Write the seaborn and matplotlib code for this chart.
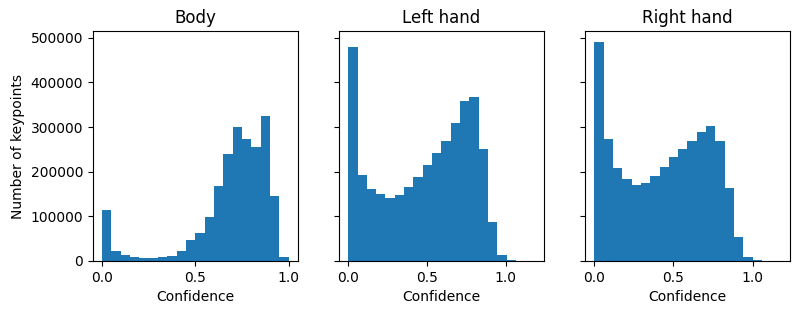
import numpy as np
import pandas as pd
import seaborn as sns
import matplotlib
matplotlib.use("Agg")
import matplotlib.pyplot as plt

# histogram counts (20 bins per panel)
body_counts = [113800, 22300, 13400, 8900, 5900, 5900, 8900, 11200, 22300, 46800,
               62500, 98100, 167000, 238700, 301000, 274000, 256500, 325700, 145000, 8900]
left_counts = [479600, 191800, 160600, 149400, 140500, 147200, 165100, 187400, 214100, 240900,
               269900, 310000, 359100, 368000, 252000, 87000, 13400, 2200, 300, 100]
right_counts = [490700, 274300, 207400, 182900, 169500, 174000, 189600, 209700, 232000, 252000,
                269900, 290000, 303300, 269900, 162800, 53500, 8900, 2200, 300, 100]

titles = ["Body", "Left hand", "Right hand"]
max_conf = [1.0, 1.184, 1.178]
all_counts = [body_counts, left_counts, right_counts]

fig, axes = plt.subplots(1, 3, figsize=(8, 3.14), dpi=100, sharey=True)
plt.subplots_adjust(left=0.116, right=0.9875, top=0.901, bottom=0.169, wspace=0.2)

for ax, title, counts, top in zip(axes, titles, all_counts, max_conf):
    n = len(counts)
    edges = np.linspace(0, top, n + 1)
    df = pd.DataFrame({"conf": (edges[:-1] + edges[1:]) / 2, "count": counts})
    sns.histplot(data=df, x="conf", weights="count", bins=n, binrange=(0, top), ax=ax,
                 color="#1f77b4", alpha=1, linewidth=0, edgecolor="none")
    ax.set_title(title, fontsize=12)
    ax.set_xlabel("Confidence")
    ax.set_ylabel("")
    ax.set_xticks([0.0, 0.5, 1.0])

axes[0].set_ylabel("Number of keypoints")

plt.savefig("out.png", dpi=100)
